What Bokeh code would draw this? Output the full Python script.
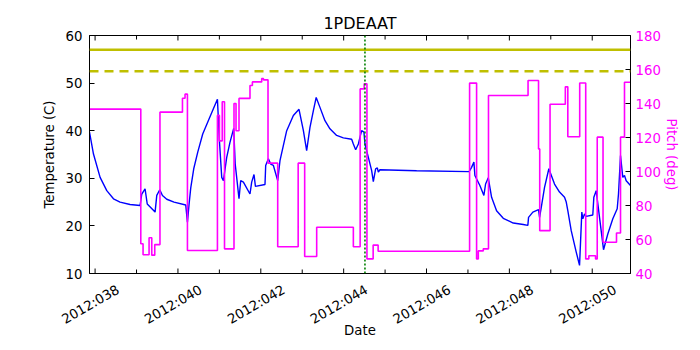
import math
from bokeh.plotting import figure
from bokeh.models import Range1d, LinearAxis, FixedTicker, Span
from bokeh.embed import file_html
from bokeh.resources import INLINE

# ---- data (day of year 2012) ----
temp_day = [37.865, 37.961, 38.121, 38.282, 38.444, 38.603, 38.844, 39.086, 39.127, 39.206,
            39.259, 39.448, 39.489, 39.561, 39.626, 39.730, 39.906, 40.188, 40.229, 40.268,
            40.309, 40.381, 40.478, 40.598, 40.743, 40.840, 40.953, 41.001, 41.057, 41.098,
            41.177, 41.257, 41.346, 41.382, 41.474, 41.515, 41.580, 41.739, 41.780, 41.836,
            41.870, 42.101, 42.118, 42.183, 42.239, 42.304, 42.408, 42.463, 42.625, 42.786,
            42.922, 43.028, 43.107, 43.187, 43.269, 43.337, 43.428, 43.549, 43.669, 43.831,
            43.993, 44.193, 44.234, 44.290, 44.355, 44.393, 44.434, 44.490, 44.514, 44.596,
            44.676, 44.716, 44.772, 44.813, 44.837, 44.876, 45.761, 47.028, 47.088, 47.144,
            47.168, 47.288, 47.385, 47.426, 47.491, 47.571, 47.691, 47.853, 48.094, 48.335,
            48.446, 48.463, 48.567, 48.704, 48.729, 48.770, 48.849, 48.953, 49.090, 49.211,
            49.332, 49.373, 49.411, 49.493, 49.614, 49.694, 49.749, 49.773, 49.814, 49.855,
            50.014, 50.039, 50.096, 50.176, 50.273, 50.376, 50.497, 50.603, 50.634, 50.683,
            50.738, 50.779, 50.820, 50.924]
temp_c = [39.7, 35.1, 30.2, 27.4, 25.7, 25.0, 24.5, 24.3, 26.7, 27.8,
          24.6, 22.9, 26.4, 27.6, 26.4, 25.6, 25.0, 24.4, 20.8, 24.5,
          28.0, 32.0, 35.5, 39.3, 42.3, 44.3, 46.6, 37.9, 30.2, 29.5,
          34.4, 37.6, 40.5, 33.0, 25.7, 29.5, 29.2, 26.7, 29.2, 30.8,
          28.3, 28.7, 32.7, 34.1, 33.0, 32.7, 29.5, 33.7, 40.0, 43.2,
          44.5, 40.0, 35.8, 40.7, 44.2, 47.0, 44.9, 42.1, 40.4, 39.0,
          38.5, 38.2, 37.2, 36.0, 37.2, 38.6, 40.0, 39.7, 37.2, 34.4,
          31.6, 29.3, 32.0, 32.2, 31.3, 31.8, 31.6, 31.4, 32.3, 33.4,
          30.6, 28.5, 26.4, 28.8, 30.1, 26.0, 23.2, 21.6, 20.6, 20.3,
          20.1, 21.8, 22.9, 23.4, 21.8, 23.9, 28.1, 32.0, 28.8, 27.1,
          26.0, 25.0, 23.2, 19.0, 14.5, 11.7, 22.9, 21.5, 22.5, 22.0,
          22.3, 26.0, 27.4, 21.8, 15.0, 18.3, 21.5, 23.6, 26.7, 34.8,
          30.2, 30.6, 29.5, 28.5]

pitch_day = [37.865, 39.103, 39.158, 39.303, 39.368, 39.440, 39.566, 40.109, 40.171, 40.229,
             40.953, 41.001, 41.069, 41.124, 41.353, 41.402, 41.474, 41.739, 41.797, 42.022,
             42.063, 42.174, 42.408, 42.902, 43.059, 43.349, 44.234, 44.398, 44.495, 44.562,
             44.712, 44.832, 47.040, 47.209, 47.250, 47.370, 47.496, 48.451, 48.704, 48.733,
             48.982, 49.351, 49.411, 49.698, 49.843, 49.918, 50.080, 50.121, 50.261, 50.586,
             50.683, 50.779, 50.924]
pitch_deg = [136.7, 57.5, 51.0, 61.0, 50.8, 57.0, 134.9, 143.1, 145.5, 53.5,
             133.0, 118.0, 141.0, 54.5, 140.0, 124.0, 143.0, 150.6, 152.7, 154.7,
             153.9, 104.9, 55.7, 104.9, 50.0, 67.2, 55.7, 148.6, 151.6, 48.6,
             56.7, 53.1, 152.0, 48.6, 53.3, 54.5, 144.7, 153.5, 113.3, 65.2,
             139.6, 149.8, 120.4, 152.1, 48.6, 50.4, 48.6, 120.2, 58.4, 63.8,
             120.2, 152.5, 152.5]

limit_solid = 57.0
limit_dashed = 52.5
event_day = 44.514

day_lo, day_hi = 37.865, 50.924
temp_lo, temp_hi = 10, 60
pitch_lo, pitch_hi = 40, 180

tick_days = [38, 40, 42, 44, 46, 48, 50]
tick_labels = ["2012:038", "2012:040", "2012:042", "2012:044", "2012:046", "2012:048", "2012:050"]
minor_days = [39, 41, 43, 45, 47, 49]
temp_ticks = [10, 20, 30, 40, 50, 60]
pitch_ticks = [40, 60, 80, 100, 120, 140, 160, 180]

FONT = "DejaVu Sans"
FS = "13.3px"
MAGENTA = "#ff00ff"
FRAME_W, FRAME_H = 541, 238

p = figure(frame_width=FRAME_W, frame_height=FRAME_H,
           min_border_left=89, min_border_right=62, min_border_top=35, min_border_bottom=69,
           x_range=Range1d(day_lo, day_hi), y_range=Range1d(temp_lo, temp_hi),
           x_axis_location=None,
           output_backend="svg", toolbar_location=None,
           title="1PDEAAT")
p.extra_y_ranges = {"pitch": Range1d(pitch_lo, pitch_hi)}

# rotated date labels are centred under their ticks: a label-only axis on a range
# shifted by some pixels moves Bokeh's right-anchored labels to the centred position
shift = 23 * (day_hi - day_lo) / FRAME_W
p.extra_x_ranges = {"lbl": Range1d(day_lo - shift, day_hi - shift)}

p.title.align = "center"
p.title.text_font = FONT
p.title.text_font_size = "16px"
p.title.text_font_style = "normal"
p.title.text_color = "black"
p.title.standoff = 5

p.xgrid.grid_line_color = None
p.ygrid.grid_line_color = None
p.outline_line_color = "black"
p.outline_line_width = 1
p.background_fill_color = "white"
p.border_fill_color = "white"

# x tick marks (inside, bottom and top)
p.ray(x=tick_days, y=[temp_lo] * len(tick_days), length=5, length_units="screen",
      angle=math.pi / 2, line_color="black", line_width=1)
p.ray(x=minor_days, y=[temp_lo] * len(minor_days), length=4, length_units="screen",
      angle=math.pi / 2, line_color="black", line_width=1)
p.ray(x=tick_days, y=[temp_hi] * len(tick_days), length=5, length_units="screen",
      angle=-math.pi / 2, line_color="black", line_width=1)
p.ray(x=minor_days, y=[temp_hi] * len(minor_days), length=4, length_units="screen",
      angle=-math.pi / 2, line_color="black", line_width=1)

xa = LinearAxis(x_range_name="lbl", ticker=FixedTicker(ticks=tick_days),
                axis_label="Date")
xa.major_label_overrides = {d: l for d, l in zip(tick_days, tick_labels)}
xa.major_label_orientation = math.pi / 6
xa.axis_line_color = None
xa.major_tick_line_color = None
xa.minor_tick_line_color = None
xa.major_tick_in = 0
xa.major_tick_out = 0
xa.major_label_standoff = 15
xa.axis_label_standoff = -13
p.add_layout(xa, "below")

ya = p.yaxis[0]
ya.ticker = FixedTicker(ticks=temp_ticks)
ya.axis_label = "Temperature (C)"

ra = LinearAxis(y_range_name="pitch", ticker=FixedTicker(ticks=pitch_ticks),
                axis_label="Pitch (deg)")
p.add_layout(ra, "right")

for ax in [xa, ya, ra]:
    ax.major_label_text_font = FONT
    ax.major_label_text_font_size = FS
    ax.major_label_text_color = "black"
    ax.axis_label_text_font = FONT
    ax.axis_label_text_font_style = "normal"
    ax.axis_label_text_font_size = FS
    ax.axis_label_text_color = "black"
for ax in [ya, ra]:
    ax.major_tick_in = 5
    ax.major_tick_out = 0
    ax.minor_tick_line_color = None
    ax.axis_line_color = "black"
    ax.major_tick_line_color = "black"
ya.major_label_standoff = 7
ya.axis_label_standoff = 6
ra.major_label_standoff = 5
ra.axis_label_standoff = 0
ra.axis_label_orientation = "vertical"
ra.major_label_text_color = MAGENTA
ra.axis_label_text_color = MAGENTA

# limit lines
p.add_layout(Span(location=limit_solid, dimension="width", line_color="#bfbf00", line_width=2.5))
p.add_layout(Span(location=limit_dashed, dimension="width", line_color="#bfbf00", line_width=2.5,
                  line_dash="9 6"))
p.add_layout(Span(location=event_day, dimension="height", line_color="#008000", line_width=1.6,
                  line_dash="2 2"))

p.line(temp_day, temp_c, line_color="#0000ff", line_width=1.4)
p.step(pitch_day, pitch_deg, mode="after", line_color=MAGENTA, line_width=1.6, y_range_name="pitch")

open("out.html", "w").write(file_html(p, INLINE))
